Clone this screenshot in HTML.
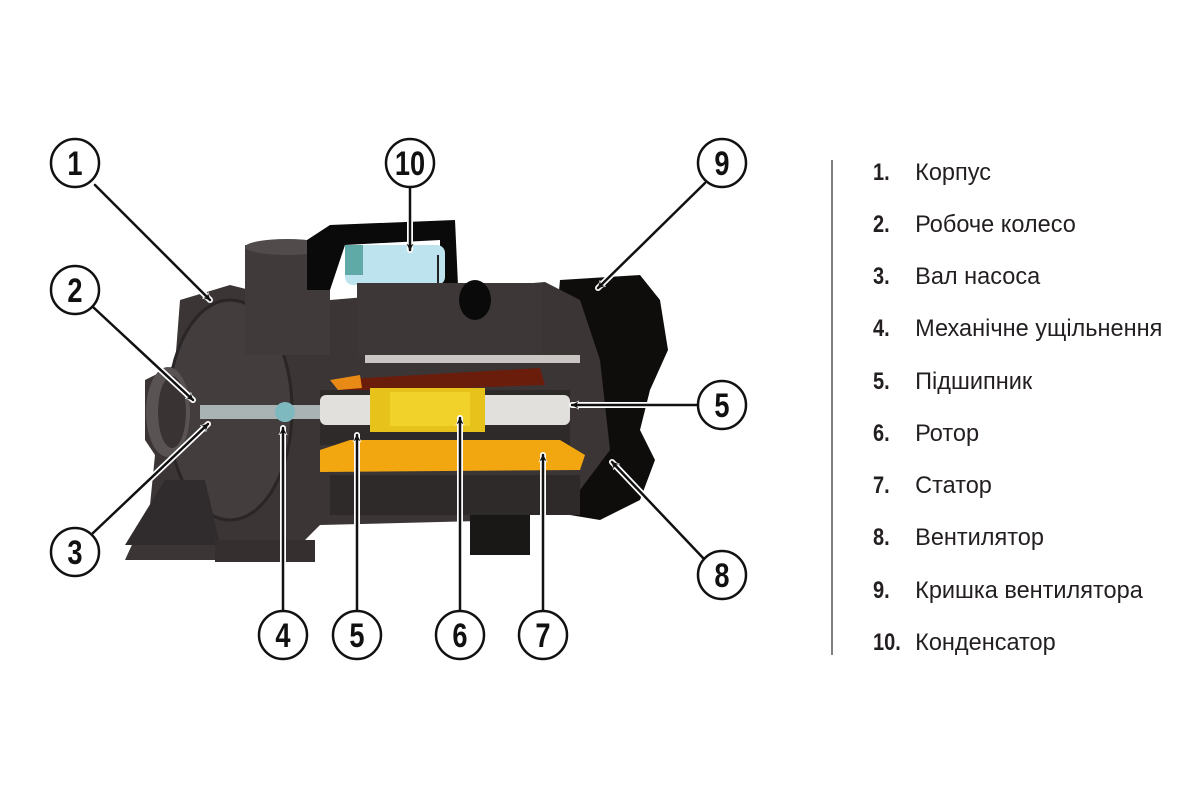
<!DOCTYPE html>
<html><head><meta charset="utf-8"><style>
html,body{margin:0;padding:0;background:#fff;}
body{width:1200px;height:800px;position:relative;overflow:hidden;font-family:"Liberation Sans",sans-serif;}
.leg{position:absolute;left:873px;font-size:24px;color:#231f20;white-space:nowrap;transform-origin:0 0;transform:scaleX(0.98);}
.leg b{display:inline-block;width:43px;font-weight:bold;transform-origin:0 0;transform:scaleX(0.85);}
</style></head><body>
<svg width="1200" height="800" style="position:absolute;left:0;top:0">
<defs>
<marker id="ah" viewBox="0 0 10 10" refX="9" refY="5" markerWidth="7" markerHeight="7" markerUnits="userSpaceOnUse" orient="auto">
<path d="M0,0 L10,5 L0,10 L3,5 z" fill="#111"/>
</marker>
<marker id="ahw" viewBox="-2 -2 14 14" refX="9" refY="5" markerWidth="9" markerHeight="9" markerUnits="userSpaceOnUse" orient="auto">
<path d="M0,0 L10,5 L0,10 L3,5 z" fill="#fff" stroke="#fff" stroke-width="2"/>
</marker>
</defs>
<path d="M560,280 L640,275 L660,300 L668,350 L650,390 L640,430 L655,460 L640,500 L600,520 L570,515 L540,500 Z" fill="#0e0d0c"/>
<path d="M180,300 L230,285 L250,290 L330,300 L545,282 L580,300 L600,360 L610,450 L580,490 L520,520 L320,525 L300,545 L240,560 L125,560 L150,505 L155,455 L145,440 L145,380 L175,365 Z" fill="#3b3536"/>
<ellipse cx="230" cy="410" rx="62" ry="110" fill="#433d3e" stroke="#2a2526" stroke-width="3"/>
<ellipse cx="168" cy="412" rx="22" ry="45" fill="#5a5354"/>
<ellipse cx="172" cy="412" rx="14" ry="36" fill="#3a3334"/>
<rect x="245" y="245" width="85" height="110" fill="#403a3b"/>
<ellipse cx="287" cy="247" rx="42" ry="8" fill="#524b4c"/>
<path d="M307,240 L330,225 L455,220 L458,285 L440,285 L440,240 L345,245 L330,290 L307,290 Z" fill="#0b0a0a"/>
<rect x="345" y="245" width="100" height="40" rx="8" fill="#bde3ee"/>
<rect x="345" y="245" width="18" height="30" fill="#5fa9a6"/>
<line x1="438" y1="255" x2="438" y2="285" stroke="#222" stroke-width="2"/>
<rect x="357" y="283" width="185" height="72" fill="#3d3738"/>
<ellipse cx="475" cy="300" rx="16" ry="20" fill="#0b0a0a"/>
<rect x="365" y="355" width="215" height="8" fill="#c9c6c4"/>
<path d="M330,380 L540,368 L545,385 L345,392 Z" fill="#6a1d0b"/>
<path d="M330,380 L360,375 L362,388 L338,390 Z" fill="#e98a16"/>
<rect x="320" y="390" width="250" height="55" fill="#2e2a2a"/>
<rect x="200" y="405" width="140" height="14" fill="#a9b3b4"/>
<rect x="320" y="395" width="250" height="30" rx="6" fill="#e2e0dd"/>
<rect x="370" y="388" width="115" height="44" fill="#e7c21a"/>
<rect x="390" y="392" width="80" height="34" fill="#f0d22a"/>
<circle cx="285" cy="412" r="10" fill="#7fb9c0"/>
<path d="M320,450 L350,440 L560,440 L585,455 L580,470 L320,472 Z" fill="#f2a711"/>
<rect x="330" y="475" width="250" height="40" fill="#2f2a2a"/>
<rect x="470" y="515" width="60" height="40" fill="#1a1717"/>
<path d="M125,545 L165,480 L205,480 L220,545 Z" fill="#302b2c"/>
<rect x="215" y="540" width="100" height="22" fill="#352f30"/>

<g fill="none" stroke-linecap="round">
<g stroke="#fff" stroke-width="6" marker-end="url(#ahw)">
<line x1="95" y1="185" x2="210" y2="300"/>
<line x1="410" y1="188" x2="410" y2="250"/>
<line x1="705" y1="183" x2="598" y2="288"/>
<line x1="93" y1="307" x2="193" y2="400"/>
<line x1="93" y1="533" x2="208" y2="424"/>
<line x1="283" y1="611" x2="283" y2="428"/>
<line x1="357" y1="611" x2="357" y2="435"/>
<line x1="460" y1="611" x2="460" y2="418"/>
<line x1="543" y1="611" x2="543" y2="455"/>
<line x1="698" y1="405" x2="572" y2="405"/>
<line x1="705" y1="560" x2="612" y2="462"/>
</g>
<g stroke="#111" stroke-width="2.5" marker-end="url(#ah)">
<line x1="95" y1="185" x2="210" y2="300"/>
<line x1="410" y1="188" x2="410" y2="250"/>
<line x1="705" y1="183" x2="598" y2="288"/>
<line x1="93" y1="307" x2="193" y2="400"/>
<line x1="93" y1="533" x2="208" y2="424"/>
<line x1="283" y1="611" x2="283" y2="428"/>
<line x1="357" y1="611" x2="357" y2="435"/>
<line x1="460" y1="611" x2="460" y2="418"/>
<line x1="543" y1="611" x2="543" y2="455"/>
<line x1="698" y1="405" x2="572" y2="405"/>
<line x1="705" y1="560" x2="612" y2="462"/>
</g>
</g>
<g fill="#fff" stroke="#111" stroke-width="2.5">
<circle cx="75" cy="163" r="24"/><circle cx="410" cy="163" r="24"/><circle cx="722" cy="163" r="24"/>
<circle cx="75" cy="290" r="24"/><circle cx="75" cy="552" r="24"/><circle cx="722" cy="405" r="24"/>
<circle cx="722" cy="575" r="24"/><circle cx="283" cy="635" r="24"/><circle cx="357" cy="635" r="24"/>
<circle cx="460" cy="635" r="24"/><circle cx="543" cy="635" r="24"/>
</g>
<g fill="#111" font-family="Liberation Sans, sans-serif" font-weight="bold" font-size="34" text-anchor="middle">
<text transform="translate(75,175) scale(0.8,1)">1</text><text transform="translate(410,175) scale(0.8,1)">10</text><text transform="translate(722,175) scale(0.8,1)">9</text>
<text transform="translate(75,302) scale(0.8,1)">2</text><text transform="translate(75,564) scale(0.8,1)">3</text><text transform="translate(722,417) scale(0.8,1)">5</text>
<text transform="translate(722,587) scale(0.8,1)">8</text><text transform="translate(283,647) scale(0.8,1)">4</text><text transform="translate(357,647) scale(0.8,1)">5</text>
<text transform="translate(460,647) scale(0.8,1)">6</text><text transform="translate(543,647) scale(0.8,1)">7</text>
</g>
<line x1="832" y1="160" x2="832" y2="655" stroke="#555" stroke-width="1.5"/>
</svg>
<div class="leg" style="top:159px"><b>1.</b>Корпус</div>
<div class="leg" style="top:211px"><b>2.</b>Робоче колесо</div>
<div class="leg" style="top:263px"><b>3.</b>Вал насоса</div>
<div class="leg" style="top:315px"><b>4.</b>Механічне ущільнення</div>
<div class="leg" style="top:368px"><b>5.</b>Підшипник</div>
<div class="leg" style="top:420px"><b>6.</b>Ротор</div>
<div class="leg" style="top:472px"><b>7.</b>Статор</div>
<div class="leg" style="top:524px"><b>8.</b>Вентилятор</div>
<div class="leg" style="top:577px"><b>9.</b>Кришка вентилятора</div>
<div class="leg" style="top:629px"><b>10.</b>Конденсатор</div>
</body></html>
